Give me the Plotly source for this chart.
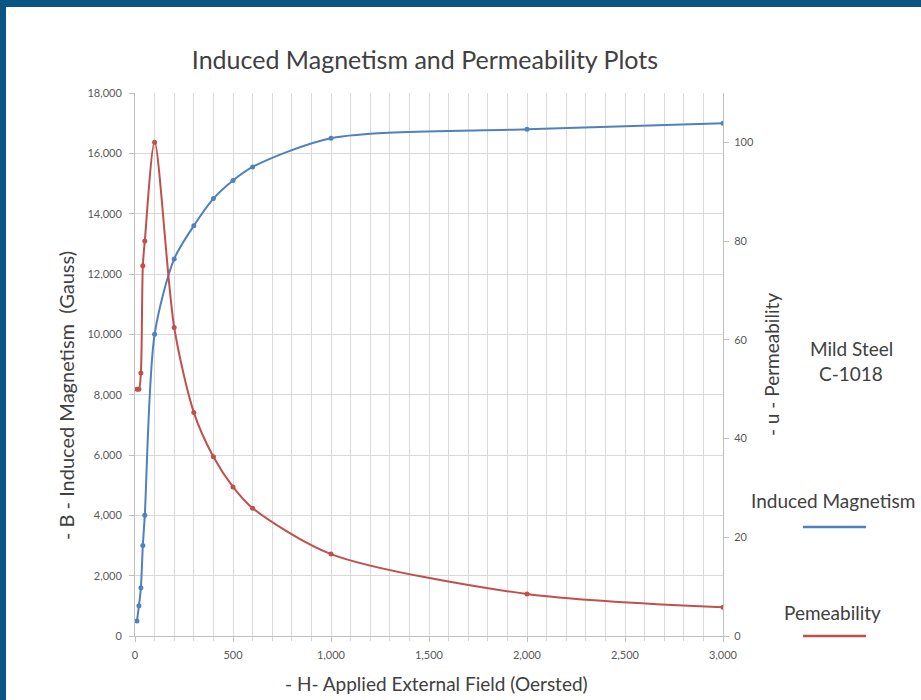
import plotly.graph_objects as go

# Data
H = [10, 20, 30, 40, 50, 100, 200, 300, 400, 500, 600, 1000, 2000, 3000]
B = [500, 1000, 1600, 3000, 4000, 10000, 12500, 13600, 14500, 15100, 15550, 16500, 16800, 17000]
U = [50, 50, 53.3, 75, 80, 100, 62.5, 45.3, 36.3, 30.2, 25.9, 16.6, 8.5, 5.8]

x_ticks = [0, 500, 1000, 1500, 2000, 2500, 3000]
x_tick_labels = ["0", "500", "1,000", "1,500", "2,000", "2,500", "3,000"]
y_ticks = [0, 2000, 4000, 6000, 8000, 10000, 12000, 14000, 16000, 18000]
y_tick_labels = ["0", "2,000", "4,000", "6,000", "8,000", "10,000", "12,000", "14,000", "16,000", "18,000"]
y2_ticks = [0, 20, 40, 60, 80, 100]

BLUE = "#4F81BD"
RED = "#C0504D"
FONT = "Lato"
GRID = "#d9d9d9"
TICKC = "#595959"
TXT = "#404040"

L, R, T, Bm = 135, 723, 93, 636   # plot area in pixels
PW, PH = R - L, Bm - T

def px_x(p):
    return (p - L) / PW

def px_y(p):
    return (Bm - p) / PH

fig = go.Figure()
fig.add_trace(go.Scatter(
    x=H, y=B, mode="lines+markers", name="Induced Magnetism",
    line=dict(color=BLUE, width=2, shape="spline", smoothing=0.8),
    marker=dict(color=BLUE, size=5), yaxis="y"))
fig.add_trace(go.Scatter(
    x=H, y=U, mode="lines+markers", name="Pemeability",
    line=dict(color=RED, width=2, shape="spline", smoothing=0.8),
    marker=dict(color=RED, size=5), yaxis="y2"))

fig.update_layout(
    width=921, height=700,
    margin=dict(l=L, r=921 - R, t=T, b=700 - Bm, autoexpand=False),
    paper_bgcolor="white", plot_bgcolor="white",
    showlegend=False,
    font=dict(family=FONT, color=TXT),
    title=dict(text="Induced Magnetism and Permeability Plots",
               x=425 / 921, xanchor="center",
               y=1 - 60 / 700, yanchor="middle",
               font=dict(family=FONT, size=25, color=TXT)),
    xaxis=dict(range=[0, 3000], tickvals=x_ticks, ticktext=x_tick_labels,
               showgrid=True, gridcolor=GRID, gridwidth=1,
               minor=dict(dtick=100, showgrid=True, gridcolor=GRID,
                          ticks="outside", ticklen=4, tickcolor=GRID),
               showline=True, linecolor="#bfbfbf", ticks="outside", ticklen=5,
               tickcolor="#bfbfbf", zeroline=False, ticklabelstandoff=4,
               tickfont=dict(family=FONT, size=11, color=TICKC)),
    yaxis=dict(range=[0, 18000], tickvals=y_ticks, ticktext=y_tick_labels,
               showgrid=True, gridcolor=GRID, zeroline=False,
               showline=True, linecolor="#bfbfbf", ticks="outside", ticklen=5,
               tickcolor="#bfbfbf", ticklabelstandoff=5,
               tickfont=dict(family=FONT, size=11, color=TICKC)),
    yaxis2=dict(range=[0, 110], tickvals=y2_ticks, overlaying="y", side="right",
                showgrid=False, zeroline=False, showline=True, linecolor="#bfbfbf",
                ticks="outside", ticklen=5, tickcolor="#bfbfbf", ticklabelstandoff=3,
                tickfont=dict(family=FONT, size=11, color=TICKC),
                title=dict(text="- u - Permeability",
                           font=dict(family=FONT, size=19, color=TXT),
                           standoff=12)),
)

# Axis titles placed to match the reference positions
fig.add_annotation(x=px_x(66), y=px_y(396), xref="paper", yref="paper",
                   text="- B - Induced Magnetism  (Gauss)", textangle=-90,
                   showarrow=False, xanchor="center", yanchor="middle",
                   font=dict(family=FONT, size=20, color=TXT))
fig.add_annotation(x=px_x(436), y=px_y(683), xref="paper", yref="paper",
                   text="- H- Applied External Field (Oersted)",
                   showarrow=False, xanchor="center", yanchor="middle",
                   font=dict(family=FONT, size=19, color=TXT))

# Dark blue frame (top and left bands)
fig.add_shape(type="rect", xref="paper", yref="paper",
              x0=px_x(0), x1=px_x(921), y0=px_y(7), y1=px_y(0),
              fillcolor="#0a5583", line=dict(width=0), layer="above")
fig.add_shape(type="rect", xref="paper", yref="paper",
              x0=px_x(0), x1=px_x(6), y0=px_y(700), y1=px_y(0),
              fillcolor="#0a5583", line=dict(width=0), layer="above")

ann_font = dict(family=FONT, size=19, color=TXT)
for txt, cx, cy in [("Mild Steel", 851, 348), ("C-1018", 851, 373),
                    ("Induced Magnetism", 833, 500), ("Pemeability", 832, 612)]:
    fig.add_annotation(x=px_x(cx), y=px_y(cy), xref="paper", yref="paper",
                       text=txt, showarrow=False, xanchor="center", yanchor="middle",
                       font=ann_font)
fig.add_shape(type="line", xref="paper", yref="paper",
              x0=px_x(803), x1=px_x(866), y0=px_y(527), y1=px_y(527),
              line=dict(color=BLUE, width=2.5))
fig.add_shape(type="line", xref="paper", yref="paper",
              x0=px_x(803), x1=px_x(866), y0=px_y(636), y1=px_y(636),
              line=dict(color=RED, width=2.5))

fig.write_html("out.html", config={"displayModeBar": False},
               post_script="document.body.style.margin='0';document.body.style.overflow='hidden';")
